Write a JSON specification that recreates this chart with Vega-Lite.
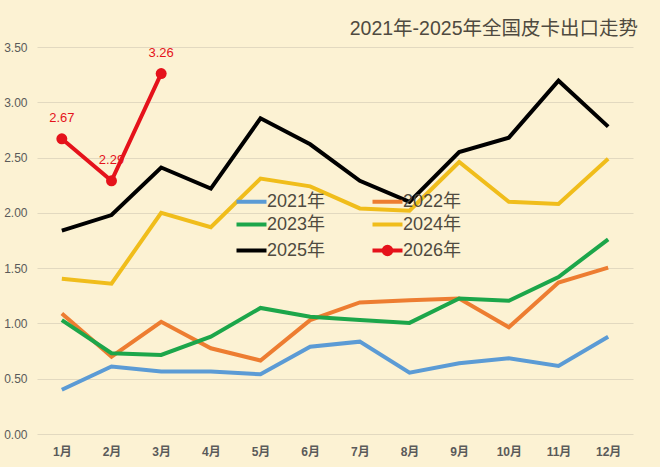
{
  "$schema": "https://vega.github.io/schema/vega-lite/v6.json",
  "width": 596,
  "height": 387,
  "autosize": {"type": "none"},
  "padding": {"left": 37, "top": 47, "right": 27, "bottom": 33},
  "background": "#fcf2d3",
  "title": {
    "text": "2021年-2025年全国皮卡出口走势",
    "anchor": "end",
    "orient": "top",
    "offset": 2,
    "dx": 5,
    "fontSize": 19.5,
    "fontWeight": "normal",
    "color": "#4f4a40"
  },
  "data": {
    "values": [
      {"month": "1月", "year": "2021年", "value": 0.40},
      {"month": "2月", "year": "2021年", "value": 0.61},
      {"month": "3月", "year": "2021年", "value": 0.565},
      {"month": "4月", "year": "2021年", "value": 0.565},
      {"month": "5月", "year": "2021年", "value": 0.54},
      {"month": "6月", "year": "2021年", "value": 0.79},
      {"month": "7月", "year": "2021年", "value": 0.835},
      {"month": "8月", "year": "2021年", "value": 0.555},
      {"month": "9月", "year": "2021年", "value": 0.64},
      {"month": "10月", "year": "2021年", "value": 0.685},
      {"month": "11月", "year": "2021年", "value": 0.615},
      {"month": "12月", "year": "2021年", "value": 0.88},
      {"month": "1月", "year": "2022年", "value": 1.09},
      {"month": "2月", "year": "2022年", "value": 0.70},
      {"month": "3月", "year": "2022年", "value": 1.015},
      {"month": "4月", "year": "2022年", "value": 0.775},
      {"month": "5月", "year": "2022年", "value": 0.665},
      {"month": "6月", "year": "2022年", "value": 1.03},
      {"month": "7月", "year": "2022年", "value": 1.19},
      {"month": "8月", "year": "2022年", "value": 1.21},
      {"month": "9月", "year": "2022年", "value": 1.225},
      {"month": "10月", "year": "2022年", "value": 0.965},
      {"month": "11月", "year": "2022年", "value": 1.37},
      {"month": "12月", "year": "2022年", "value": 1.505},
      {"month": "1月", "year": "2023年", "value": 1.03},
      {"month": "2月", "year": "2023年", "value": 0.73},
      {"month": "3月", "year": "2023年", "value": 0.715},
      {"month": "4月", "year": "2023年", "value": 0.88},
      {"month": "5月", "year": "2023年", "value": 1.14},
      {"month": "6月", "year": "2023年", "value": 1.06},
      {"month": "7月", "year": "2023年", "value": 1.03},
      {"month": "8月", "year": "2023年", "value": 1.005},
      {"month": "9月", "year": "2023年", "value": 1.225},
      {"month": "10月", "year": "2023年", "value": 1.205},
      {"month": "11月", "year": "2023年", "value": 1.42},
      {"month": "12月", "year": "2023年", "value": 1.76},
      {"month": "1月", "year": "2024年", "value": 1.405},
      {"month": "2月", "year": "2024年", "value": 1.36},
      {"month": "3月", "year": "2024年", "value": 2.00},
      {"month": "4月", "year": "2024年", "value": 1.87},
      {"month": "5月", "year": "2024年", "value": 2.31},
      {"month": "6月", "year": "2024年", "value": 2.24},
      {"month": "7月", "year": "2024年", "value": 2.04},
      {"month": "8月", "year": "2024年", "value": 2.02},
      {"month": "9月", "year": "2024年", "value": 2.46},
      {"month": "10月", "year": "2024年", "value": 2.10},
      {"month": "11月", "year": "2024年", "value": 2.08},
      {"month": "12月", "year": "2024年", "value": 2.49},
      {"month": "1月", "year": "2025年", "value": 1.84},
      {"month": "2月", "year": "2025年", "value": 1.98},
      {"month": "3月", "year": "2025年", "value": 2.41},
      {"month": "4月", "year": "2025年", "value": 2.22},
      {"month": "5月", "year": "2025年", "value": 2.855},
      {"month": "6月", "year": "2025年", "value": 2.62},
      {"month": "7月", "year": "2025年", "value": 2.29},
      {"month": "8月", "year": "2025年", "value": 2.10},
      {"month": "9月", "year": "2025年", "value": 2.55},
      {"month": "10月", "year": "2025年", "value": 2.68},
      {"month": "11月", "year": "2025年", "value": 3.195},
      {"month": "12月", "year": "2025年", "value": 2.78},
      {"month": "1月", "year": "2026年", "value": 2.67},
      {"month": "2月", "year": "2026年", "value": 2.29},
      {"month": "3月", "year": "2026年", "value": 3.26}
    ]
  },
  "encoding": {
    "x": {
      "field": "month",
      "type": "ordinal",
      "sort": ["1月", "2月", "3月", "4月", "5月", "6月", "7月", "8月", "9月", "10月", "11月", "12月"],
      "scale": {"type": "point", "padding": 0.5},
      "title": null,
      "axis": {"labelAngle": 0, "domain": false, "ticks": false, "grid": false, "labelPadding": 12, "labelFontWeight": "bold"}
    },
    "y": {
      "field": "value",
      "type": "quantitative",
      "scale": {"domain": [0, 3.5]},
      "title": null,
      "axis": {"values": [0, 0.5, 1, 1.5, 2, 2.5, 3, 3.5], "format": ".2f", "domain": false, "ticks": false, "labelPadding": 10}
    }
  },
  "layer": [
    {
      "mark": {"type": "line", "strokeWidth": 4},
      "encoding": {
        "color": {
          "field": "year",
          "type": "nominal",
          "scale": {
            "domain": ["2021年", "2023年", "2025年", "2022年", "2024年", "2026年"],
            "range": ["#5b9bd5", "#1ca64a", "#000000", "#ed7d31", "#f0bd1b", "#e5121b"]
          },
          "legend": {
            "orient": "none",
            "legendX": 205,
            "legendY": 145,
            "columns": 2,
            "title": null,
            "padding": 0,
            "symbolSize": 225,
            "symbolStrokeWidth": 4,
            "labelOffset": 6,
            "labelFontSize": 18,
            "labelColor": "#4f4a40",
            "columnPadding": 38,
            "rowPadding": 4,
            "encode": {
              "symbols": {
                "update": {
                  "shape": {"signal": "datum.value === '2026年' ? 'M-2,0L2,0M0.5,0A0.5,0.5,0,1,1,-0.5,0A0.5,0.5,0,1,1,0.5,0Z' : 'M-2,0L2,0'"},
                  "fill": {"signal": "datum.value === '2026年' ? '#e5121b' : 'transparent'"}
                }
              }
            }
          }
        }
      }
    },
    {
      "transform": [{"filter": "datum.year === '2026年'"}],
      "mark": {"type": "point", "filled": true, "size": 120, "opacity": 1, "color": "#e5121b"}
    },
    {
      "transform": [{"filter": "datum.year === '2026年'"}],
      "mark": {"type": "text", "dy": -21, "fontSize": 13, "color": "#e5121b"},
      "encoding": {"text": {"field": "value", "type": "quantitative", "format": ".2f"}}
    }
  ],
  "config": {
    "font": "Liberation Sans, Noto Sans CJK SC",
    "view": {"stroke": null},
    "axis": {"labelColor": "#5a5a5a", "labelFontSize": 12, "gridColor": "#e2d9c0", "gridWidth": 1.2}
  }
}
